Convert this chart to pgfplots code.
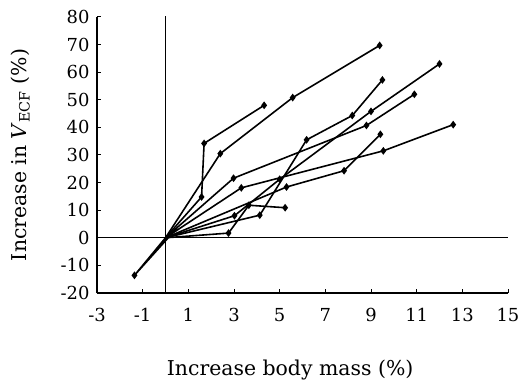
\documentclass[border=0pt]{standalone}
\usepackage{fontspec}
\setmainfont{DejaVu Serif}
\usepackage{pgfplots}
\pgfplotsset{compat=1.18}
\begin{document}
\begin{tikzpicture}
\begin{axis}[name=ax, scale only axis, width=411bp, height=276bp,
  xmin=-3, xmax=15, ymin=-20, ymax=80,
  axis x line=bottom, axis y line=left,
  axis line style={line width=1.3pt, -},
  xtick={-3,-1,1,3,5,7,9,11,13,15},
  xticklabels={-3,-1,1,3,5,7,9,11,13,15},
  ytick={-20,-10,0,10,20,30,40,50,60,70,80},
  yticklabels={-20,-10,0,10,20,30,40,50,60,70,80},
  tick align=inside, major tick length=4bp,
  tick style={line width=1pt, black},
  ticklabel style={font=\fontsize{18}{20}\selectfont},
  xticklabel style={yshift=-12bp},
  yticklabel style={xshift=-4bp},
  clip=false,
  ser/.style={black, solid, line width=1.6pt, mark=diamond*, mark size=2.6bp, mark options={solid, fill=black, draw=black}},
]
\draw[line width=1.2pt] (axis cs:0,-20) -- (axis cs:0,80.5);
\draw[line width=1.2pt] (axis cs:-3,0) -- (axis cs:15,0);
\addplot[ser, mark indices={2,3,4}] coordinates {(0,0) (1.58,14.8) (1.69,34.2) (4.32,48.0)};
\addplot[ser, mark indices={2,3,4}] coordinates {(0,0) (2.40,30.5) (5.57,50.8) (9.38,69.7)};
\addplot[ser, mark indices={2,3,4}] coordinates {(0,0) (2.98,21.6) (8.8,40.7) (10.9,52.0)};
\addplot[ser, mark indices={2,3,4}] coordinates {(0,0) (3.32,18.1) (9.54,31.5) (12.6,41.0)};
\addplot[ser, mark indices={2,3,4}] coordinates {(0,0) (5.3,18.4) (7.82,24.3) (9.41,37.5)};
\addplot[ser, mark indices={2,3,4,5}] coordinates {(0,0) (4.13,8.2) (6.18,35.5) (8.18,44.3) (9.5,57.2)};
\addplot[ser, mark indices={2,3,4,5}] coordinates {(0,0) (3.02,8.0) (5.0,21.2) (9.0,45.8) (12.0,63.0)};
\addplot[ser, mark indices={2,3,4}] coordinates {(0,0) (2.76,1.7) (3.65,11.8) (5.24,10.9)};
\addplot[ser, mark indices={2}] coordinates {(0,0) (-1.36,-13.6) (0.5,3.5)};
\node[font=\fontsize{20.5}{24}\selectfont] at (rel axis cs:0.47,-0.279) {Increase body mass (\%)};
\node[font=\fontsize{20.5}{24}\selectfont, rotate=90] at (rel axis cs:-0.187,0.5) {Increase in \textit{V}\textsubscript{ECF} (\%)};
\end{axis}
\pgfresetboundingbox
\path[use as bounding box] ([shift={(-97bp,-99bp)}]ax.south west) rectangle ([shift={(12bp,17bp)}]ax.north east);
\end{tikzpicture}
\end{document}
